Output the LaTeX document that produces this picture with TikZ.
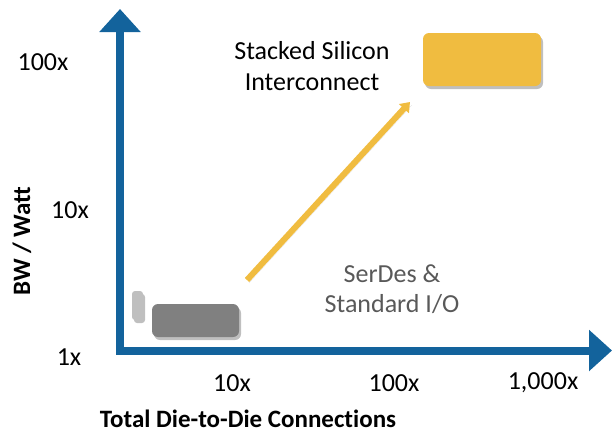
\documentclass[tikz,border=0pt]{standalone}
\usepackage{fontspec}
\setmainfont{Carlito}[Ligatures={NoCommon}]
\usepackage{xcolor}
\usetikzlibrary{arrows.meta,shadows}

\definecolor{axisblue}{RGB}{19,99,156}
\definecolor{goldbar}{RGB}{240,188,64}
\definecolor{darkbox}{RGB}{128,128,128}
\definecolor{lightbox}{RGB}{191,191,191}
\definecolor{labelgray}{RGB}{89,89,89}

\tikzset{
  softshadow/.style={drop shadow={shadow xshift=2pt,shadow yshift=-3pt,opacity=0.25,fill=black}},
  axisline/.style={line width=8pt,draw=axisblue,-{Triangle[width=40pt,length=23pt]}},
  tick/.style={font=\fontsize{26}{31}\selectfont},
  block/.style={rounded corners=6pt,inner sep=0pt,softshadow}
}

\begin{document}
\begin{tikzpicture}[x=1pt,y=-1pt]
    \useasboundingbox (0,0) rectangle (612,432);
    \coordinate (origin) at (120,350.5);
    \coordinate (ytop) at (120,9);
    \coordinate (xend) at (612,350.5);

    % axes
    \draw [axisline] ([yshift=4pt]origin) -- (ytop);
    \draw [axisline] ([xshift=-4pt]origin) -- (xend);

    % tick labels
    \node[tick] (y100) at (43,62) {100x};
    \node[tick] (y10) at (70,210) {10x};
    \node[tick] (y1) at (69,357) {1x};
    \node[tick] (x10) at (232,383) {10x};
    \node[tick] (x100) at (394,383) {100x};
    \node[tick] (x1000) at (543,383) {1,000x};

    % axis titles
    \node[font=\fontsize{25}{28}\selectfont\bfseries,inner sep=0pt,anchor=base] (xtitle) at (248,427) {Total Die-to-Die Connections};
    \node[font=\fontsize{25}{28}\selectfont\bfseries,rotate=90] (ytitle) at (22,241) {BW / Watt};

    % boxes
    \node[block,fill=goldbar,minimum width=118pt,minimum height=53pt] (ssi) at (482,59.5) {};
    \node[block,fill=darkbox,minimum width=87pt,minimum height=33pt] (serdes) at (195.5,320.5) {};
    \node[block,rounded corners=3pt,fill=lightbox,minimum width=11pt,minimum height=29pt] (stub) at (137.5,305.5) {};

    \node[font=\fontsize{26}{31}\selectfont,align=center] (ssilabel) at (312,66) {Stacked Silicon\\Interconnect};
    \node[font=\fontsize{26}{30}\selectfont,align=center,text=labelgray] (serdeslabel) at (392,289) {SerDes \&\\Standard I/O};

    % trend arrow
    \coordinate (trendstart) at (247,280);
    \coordinate (trendend) at (410,102);
    \draw [line width=6pt,draw=goldbar,-{Triangle[width=13pt,length=9pt]},softshadow] (trendstart) -- (trendend);
\end{tikzpicture}
\end{document}
